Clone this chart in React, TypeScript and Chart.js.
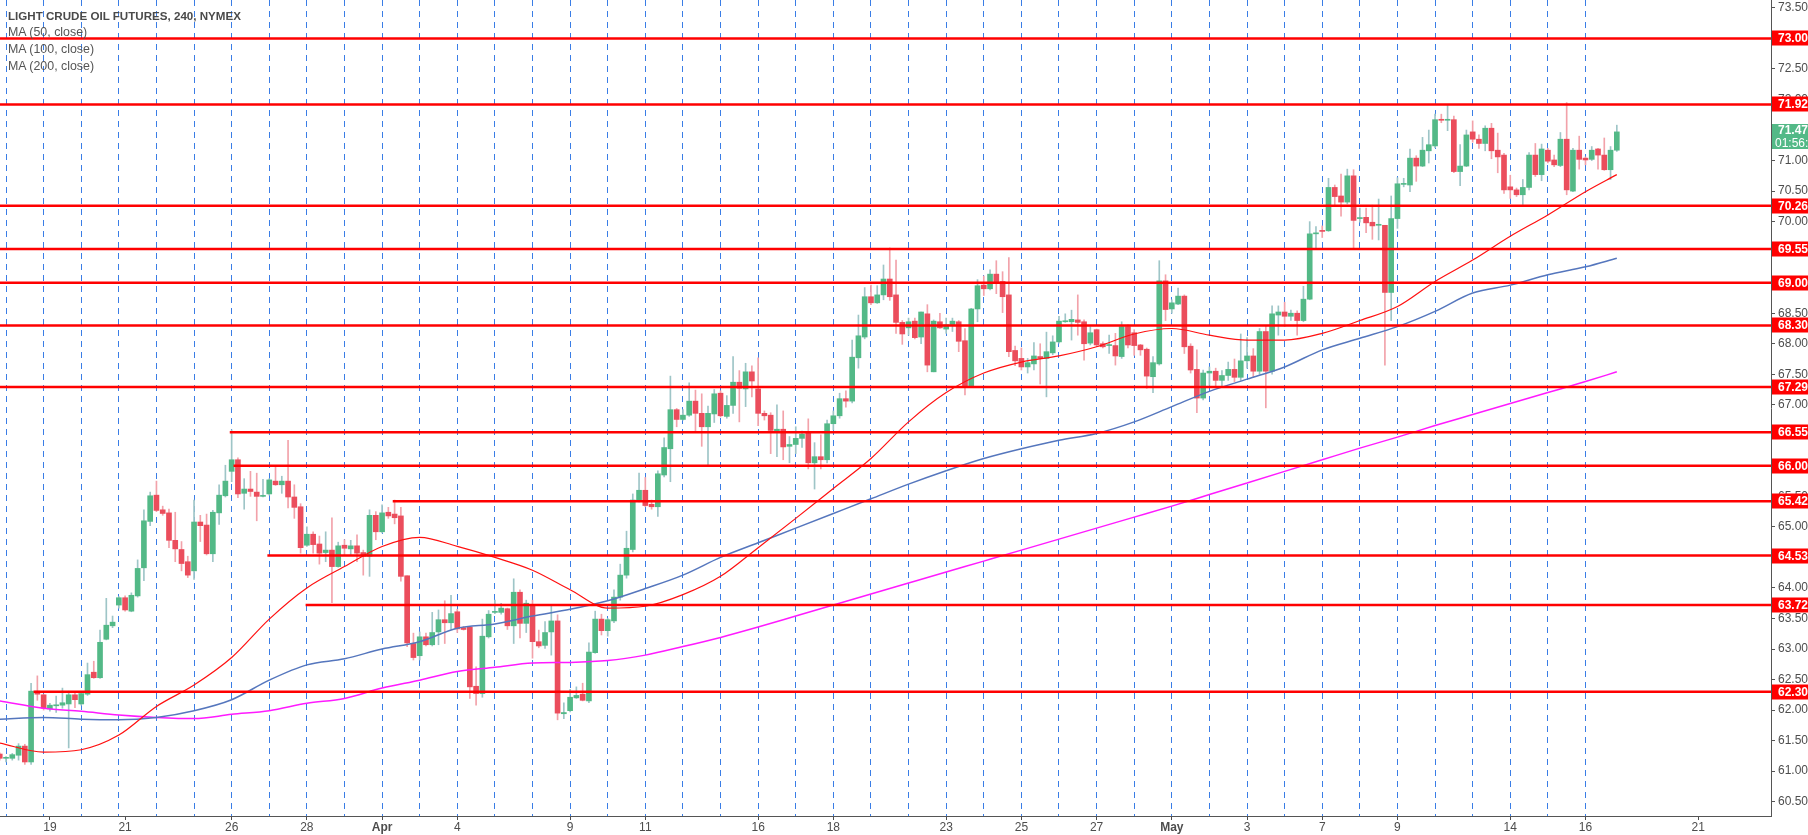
import React, { useEffect, useRef } from 'react';
import { Chart, registerables } from 'chart.js';

Chart.register(...registerables);

// ---------- DATA ----------
// bar index of the first candle (0 = first 4h bar of Mar 16)
const FIRST_BAR = -1;

const opens = [
  61.28,
  61.21, 61.21, 61.26, 61.41, 61.15, 62.31,
  62.25, 62.02, 62.07, 62.08, 62.10, 62.25,
  62.10, 62.26, 62.62, 62.53, 63.16, 63.38,
  63.72, 63.84, 63.62, 63.87, 64.33, 65.09,
  65.52, 65.28, 65.23, 64.78, 64.63, 64.43,
  64.28, 65.08, 65.03, 64.56, 65.23, 65.51,
  65.91, 66.10, 65.55, 65.62, 65.57, 65.50,
  65.54, 65.75, 65.69, 65.75, 65.49, 65.33,
  64.70, 64.88, 64.72, 64.58, 64.62, 64.35,
  64.70, 64.64, 64.69, 64.58, 64.52, 65.19,
  64.92, 65.24, 65.21, 65.18, 64.20, 63.09,
  62.89, 63.20, 63.07, 63.28, 63.48, 63.43,
  63.61, 63.35, 63.36, 62.39, 62.27, 63.20,
  63.60, 63.60, 63.66, 63.38, 63.93, 63.42,
  63.73, 63.12, 63.06, 63.28, 63.46, 61.94,
  61.99, 62.20, 62.26, 62.15, 62.94, 63.49,
  63.30, 63.46, 63.85, 64.21, 64.63, 65.43,
  65.60, 65.37, 65.33, 65.85, 66.28, 66.92,
  66.76, 66.83, 67.06, 66.86, 66.64, 66.85,
  67.19, 66.81, 66.99, 67.37, 67.26, 67.54,
  67.26, 66.86, 66.83, 66.56, 66.60, 66.32,
  66.35, 66.45, 66.54, 66.05, 66.15, 66.10,
  66.69, 66.82, 67.10, 67.06, 67.77, 68.11,
  68.77, 68.67, 68.80, 69.06, 68.80, 68.35,
  68.26, 68.37, 68.11, 68.49, 67.54, 68.36,
  68.24, 68.30, 68.36, 68.05, 67.31, 68.57,
  68.96, 68.90, 69.14, 69.02, 68.80, 67.89,
  67.76, 67.62, 67.67, 67.79, 67.76, 67.85,
  68.03, 68.36, 68.36, 68.39, 68.36, 68.01,
  68.23, 68.00, 67.97, 67.97, 67.79, 68.28,
  68.18, 67.98, 67.91, 67.46, 67.67, 69.03,
  68.57, 68.65, 68.78, 67.96, 67.58, 67.11,
  67.52, 67.55, 67.40, 67.48, 67.58, 67.45,
  67.72, 67.80, 67.55, 68.20, 67.55, 68.47,
  68.52, 68.45, 68.50, 68.38, 68.73, 69.80,
  69.85, 69.85, 70.56, 70.42, 70.32, 70.75,
  70.05, 70.07, 69.99, 69.94, 69.94, 68.84,
  70.05, 70.61, 70.60, 71.04, 70.91, 71.16,
  71.24, 71.67, 71.66, 71.67, 70.82, 70.91,
  71.47, 71.35, 71.28, 71.53, 71.17, 71.09,
  70.57, 70.52, 70.44, 70.56, 71.09, 70.77,
  71.17, 71.01, 70.92, 71.35, 70.50, 71.17,
  71.04, 71.02, 71.19, 71.09, 70.85, 71.17,
];

const highs = [
  61.30,
  61.24, 61.29, 61.45, 61.44, 62.44, 62.56,
  62.26, 62.11, 62.23, 62.36, 62.31, 62.29,
  62.30, 62.77, 62.80, 63.31, 63.83, 63.54,
  63.86, 63.87, 63.92, 64.46, 65.28, 65.57,
  65.75, 65.34, 65.29, 65.24, 64.76, 64.52,
  65.44, 65.19, 65.21, 65.27, 65.69, 66.01,
  66.59, 66.13, 65.79, 65.91, 65.88, 65.78,
  65.79, 65.99, 65.83, 66.42, 65.69, 65.38,
  65.00, 64.92, 64.85, 64.92, 65.15, 64.75,
  64.79, 64.78, 64.87, 64.62, 65.28, 65.25,
  65.36, 65.32, 65.44, 65.32, 64.20, 63.26,
  63.28, 63.26, 63.60, 63.64, 63.79, 63.88,
  63.65, 63.37, 63.37, 62.71, 63.49, 63.63,
  63.80, 63.75, 63.67, 64.15, 63.97, 63.80,
  63.80, 63.31, 63.45, 63.70, 63.56, 62.12,
  62.34, 62.38, 62.44, 63.10, 63.62, 63.57,
  63.50, 63.97, 64.39, 64.93, 65.54, 65.88,
  65.81, 65.44, 65.92, 66.46, 67.47, 66.94,
  66.92, 67.36, 67.24, 67.18, 66.98, 67.25,
  67.23, 67.15, 67.79, 67.56, 67.68, 67.64,
  67.77, 66.90, 66.87, 67.00, 66.90, 66.48,
  66.64, 66.57, 66.77, 66.38, 66.51, 66.75,
  66.90, 67.19, 67.23, 68.06, 68.47, 68.92,
  68.96, 68.95, 69.29, 69.57, 69.37, 68.38,
  68.42, 68.42, 68.52, 68.64, 68.39, 68.50,
  68.42, 68.42, 68.38, 68.25, 68.58, 69.05,
  69.11, 69.21, 69.36, 69.18, 69.41, 67.96,
  67.93, 67.76, 68.02, 68.00, 68.19, 68.13,
  68.45, 68.49, 68.55, 68.80, 68.39, 68.28,
  68.24, 68.03, 68.14, 68.17, 68.36, 68.31,
  68.23, 67.99, 67.93, 67.79, 69.36, 69.13,
  68.72, 68.91, 68.80, 68.00, 67.90, 67.57,
  67.62, 67.60, 67.56, 67.70, 67.75, 68.16,
  68.10, 67.92, 68.25, 68.29, 68.62, 68.62,
  68.68, 68.55, 68.54, 68.94, 70.00, 69.92,
  69.93, 70.71, 70.60, 70.78, 70.86, 70.85,
  70.22, 70.22, 70.27, 70.37, 69.94, 70.42,
  70.72, 70.71, 71.19, 71.08, 71.38, 71.50,
  71.76, 71.76, 71.91, 71.73, 71.26, 71.50,
  71.65, 71.42, 71.57, 71.61, 71.45, 71.12,
  70.76, 70.55, 70.69, 71.13, 71.28, 71.27,
  71.20, 71.09, 71.46, 71.95, 71.20, 71.40,
  71.06, 71.23, 71.20, 71.37, 71.23, 71.58,
];

const lows = [
  61.18,
  61.15, 61.18, 61.18, 61.11, 61.11, 62.16,
  62.00, 61.98, 61.96, 62.03, 61.38, 62.04,
  62.08, 62.24, 62.52, 62.52, 63.15, 63.35,
  63.67, 63.62, 63.61, 63.85, 64.12, 65.02,
  65.25, 65.19, 64.66, 64.43, 64.28, 64.17,
  64.14, 64.76, 64.54, 64.43, 65.04, 65.49,
  65.74, 65.48, 65.29, 65.50, 65.10, 65.49,
  65.52, 65.68, 65.55, 65.31, 65.14, 64.57,
  64.68, 64.57, 64.39, 64.43, 63.76, 64.34,
  64.54, 64.53, 64.43, 64.21, 64.19, 64.79,
  64.90, 65.14, 65.05, 64.11, 63.04, 62.82,
  62.82, 63.05, 63.05, 63.07, 63.09, 63.32,
  63.27, 63.31, 62.19, 62.08, 62.21, 63.18,
  63.58, 63.57, 63.32, 63.09, 63.18, 63.27,
  62.85, 63.02, 63.01, 62.90, 61.84, 61.86,
  61.97, 62.19, 62.15, 62.12, 62.93, 63.23,
  63.21, 63.43, 63.80, 64.16, 64.59, 65.41,
  65.33, 65.29, 65.17, 65.82, 65.74, 66.64,
  66.75, 66.81, 66.56, 66.32, 66.01, 66.71,
  66.80, 66.78, 66.86, 66.72, 66.97, 67.13,
  66.66, 66.75, 66.20, 66.15, 66.10, 66.05,
  66.20, 66.30, 65.95, 65.62, 65.95, 66.05,
  66.59, 66.78, 66.96, 67.03, 67.60, 68.08,
  68.64, 68.66, 68.72, 68.71, 68.17, 67.99,
  68.14, 68.08, 68.00, 67.54, 67.54, 68.25,
  68.17, 68.20, 67.87, 67.16, 67.30, 68.36,
  68.79, 68.88, 68.82, 68.51, 67.79, 67.64,
  67.57, 67.52, 67.57, 67.34, 67.13, 67.82,
  68.01, 68.35, 68.06, 68.14, 67.73, 67.98,
  67.96, 67.93, 67.84, 67.65, 67.76, 67.93,
  67.81, 67.81, 67.27, 67.20, 67.65, 68.38,
  68.50, 68.64, 67.84, 67.52, 66.87, 67.08,
  67.32, 67.30, 67.28, 67.40, 67.38, 67.40,
  67.60, 67.45, 67.50, 66.95, 67.50, 68.14,
  68.28, 68.38, 68.14, 68.36, 68.72, 69.55,
  69.74, 69.84, 70.26, 70.09, 70.29, 69.55,
  69.99, 69.82, 69.71, 69.70, 67.65, 68.38,
  69.89, 70.57, 70.49, 70.66, 70.90, 70.96,
  71.21, 71.62, 71.49, 70.80, 70.59, 70.90,
  71.30, 71.20, 71.16, 71.03, 70.80, 70.46,
  70.38, 70.41, 70.28, 70.52, 70.74, 70.67,
  70.96, 70.90, 70.90, 70.44, 70.49, 70.86,
  70.93, 71.00, 70.86, 70.84, 70.69, 71.15,
];

const closes = [
  61.21,
  61.22, 61.27, 61.41, 61.15, 62.31, 62.26,
  62.03, 62.08, 62.08, 62.12, 62.25, 62.17,
  62.27, 62.58, 62.53, 63.11, 63.39, 63.44,
  63.84, 63.64, 63.88, 64.32, 65.10, 65.51,
  65.27, 65.22, 64.78, 64.64, 64.40, 64.21,
  65.08, 65.02, 64.56, 65.24, 65.52, 65.75,
  66.10, 65.54, 65.62, 65.58, 65.50, 65.51,
  65.77, 65.69, 65.75, 65.49, 65.32, 64.66,
  64.88, 64.71, 64.57, 64.62, 64.35, 64.69,
  64.65, 64.69, 64.57, 64.52, 65.19, 64.92,
  65.23, 65.18, 65.15, 64.19, 63.10, 62.86,
  63.20, 63.07, 63.27, 63.48, 63.43, 63.58,
  63.33, 63.32, 62.38, 62.27, 63.21, 63.57,
  63.61, 63.67, 63.38, 63.93, 63.42, 63.75,
  63.12, 63.05, 63.27, 63.46, 61.95, 61.96,
  62.21, 62.24, 62.16, 62.95, 63.49, 63.30,
  63.48, 63.85, 64.21, 64.65, 65.44, 65.60,
  65.35, 65.33, 65.87, 66.30, 66.92, 66.76,
  66.83, 67.06, 66.86, 66.64, 66.86, 67.18,
  66.82, 66.99, 67.37, 67.27, 67.54, 67.39,
  66.86, 66.82, 66.58, 66.60, 66.31, 66.35,
  66.45, 66.52, 66.05, 66.15, 66.10, 66.69,
  66.82, 67.10, 67.06, 67.78, 68.13, 68.77,
  68.67, 68.80, 69.06, 68.77, 68.35, 68.16,
  68.36, 68.10, 68.52, 67.65, 68.37, 68.26,
  68.31, 68.37, 68.04, 67.30, 68.57, 68.95,
  68.90, 69.14, 69.00, 68.77, 67.87, 67.72,
  67.62, 67.69, 67.80, 67.76, 67.87, 68.03,
  68.37, 68.37, 68.40, 68.35, 68.00, 68.18,
  67.98, 67.95, 67.98, 67.80, 68.28, 67.98,
  67.97, 67.90, 67.47, 67.69, 69.03, 68.56,
  68.67, 68.78, 67.95, 67.57, 67.11, 67.52,
  67.55, 67.40, 67.48, 67.58, 67.45, 67.72,
  67.80, 67.55, 68.20, 67.55, 68.49, 68.52,
  68.45, 68.50, 68.38, 68.73, 69.80, 69.81,
  69.84, 70.56, 70.41, 70.32, 70.75, 70.02,
  70.06, 69.98, 69.93, 69.95, 68.84, 70.05,
  70.62, 70.62, 71.04, 70.91, 71.17, 71.26,
  71.67, 71.66, 71.67, 70.82, 70.91, 71.42,
  71.35, 71.28, 71.53, 71.16, 71.06, 70.52,
  70.52, 70.44, 70.56, 71.09, 70.77, 71.19,
  70.99, 70.93, 71.35, 70.52, 71.17, 71.02,
  71.01, 71.17, 71.09, 70.85, 71.17, 71.47,
];

// moving averages, sampled at bar indices
const maBars = [-1, 6, 12, 18, 24, 30, 36, 42, 48, 54, 60, 66, 72, 78, 84, 90, 96, 102, 108, 114, 120, 126, 132, 138, 144, 150, 156, 162, 168, 174, 180, 186, 192, 198, 204, 210, 216, 222, 228, 234, 240, 246, 252, 257];
const ma50 = [61.46, 61.31, 61.35, 61.59, 62.06, 62.41, 62.86, 63.49, 64.00, 64.35, 64.68, 64.83, 64.68, 64.50, 64.29, 63.97, 63.67, 63.70, 63.89, 64.19, 64.66, 65.14, 65.63, 66.12, 66.72, 67.20, 67.52, 67.70, 67.80, 67.95, 68.16, 68.25, 68.14, 68.06, 68.06, 68.17, 68.38, 68.61, 69.02, 69.37, 69.76, 70.11, 70.49, 70.77];
const ma100 = [61.85, 61.88, 61.85, 61.84, 61.88, 61.99, 62.17, 62.49, 62.74, 62.84, 63.00, 63.12, 63.34, 63.41, 63.54, 63.65, 63.79, 63.99, 64.21, 64.50, 64.74, 64.98, 65.22, 65.46, 65.70, 65.92, 66.12, 66.28, 66.42, 66.53, 66.72, 66.97, 67.22, 67.42, 67.62, 67.90, 68.09, 68.28, 68.53, 68.83, 68.96, 69.13, 69.26, 69.40];
const ma200 = [62.15, 62.03, 61.98, 61.92, 61.88, 61.86, 61.93, 61.99, 62.11, 62.19, 62.36, 62.49, 62.63, 62.70, 62.77, 62.78, 62.81, 62.90, 63.04, 63.19, 63.36, 63.54, 63.72, 63.90, 64.08, 64.26, 64.44, 64.62, 64.80, 64.98, 65.16, 65.34, 65.53, 65.72, 65.91, 66.10, 66.29, 66.47, 66.66, 66.84, 67.02, 67.20, 67.38, 67.54];

// horizontal levels and the bar where each starts (null = from the left edge)
const levels = [73.0, 71.92, 70.26, 69.55, 69.0, 68.3, 67.29, 66.55, 66.0, 65.42, 64.53, 63.72, 62.3];
const levelStartBars = [null, null, null, null, null, null, null, 35.7, 36.3, 61.7, 41.7, 47.8, 4.4];

// axis
const dayStartBars = [0, 6, 12, 18, 24, 30, 36, 42, 48, 54, 60, 66, 72, 78, 84, 90, 96, 102, 108, 114, 120, 126, 132, 138, 144, 150, 156, 162, 168, 174, 180, 186, 192, 198, 204, 210, 216, 222, 228, 234, 240, 246, 252];
const xLabelBars = [7, 19, 36, 48, 60, 72, 90, 102, 120, 132, 150, 162, 174, 186, 198, 210, 222, 240, 252, 270];
const xLabels = ['19', '21', '26', '28', 'Apr', '4', '9', '11', '16', '18', '23', '25', '27', 'May', '3', '7', '9', '14', '16', '21'];
const boldLabels = ['Apr', 'May'];
const yTickValues = [60.5, 61, 61.5, 62, 62.5, 63, 63.5, 64, 64.5, 65, 65.5, 66, 66.5, 67, 67.5, 68, 68.5, 69, 69.5, 70, 70.5, 71, 71.5, 72, 72.5, 73, 73.5];

const lastPrice = 71.47;
const countdown = '01:56:36';
const titleText = 'LIGHT CRUDE OIL FUTURES, 240, NYMEX';
const legendTexts = ['MA (50, close)', 'MA (100, close)', 'MA (200, close)'];

// ---------- STYLE ----------
const W = 1808;
const H = 835;
const X_MIN = -0.96;
const X_MAX = 281.6;
const Y_MIN = 60.265;
const Y_MAX = 73.63;
const UP = '#53b987';
const DOWN = '#eb4d5c';
const WICK_UP = '#9ec5c7';
const WICK_DOWN = '#f2a2aa';
const FONT = '"Liberation Sans", Arial, sans-serif';
const AXIS_TEXT = '#4d4d4d';

export default function App() {
  const canvasRef = useRef<HTMLCanvasElement | null>(null);

  useEffect(() => {
    document.body.style.margin = '0';
    const canvas = canvasRef.current;
    if (!canvas) return;

    const bars = opens.map((o, i) => ({
      n: FIRST_BAR + i,
      o,
      h: highs[i],
      l: lows[i],
      c: closes[i],
    }));
    const isUp = bars.map((b) => b.c >= b.o);

    const gridSet = new Set(dayStartBars);
    const labelMap = new Map<number, string>();
    xLabelBars.forEach((n, i) => labelMap.set(n, xLabels[i]));
    const xTicks = Array.from(new Set([...dayStartBars, ...xLabelBars])).sort((a, b) => a - b);

    const levelDatasets = levels.map((v, i) => ({
      type: 'line' as const,
      label: 'level ' + v,
      data: [
        { x: levelStartBars[i] == null ? X_MIN : (levelStartBars[i] as number), y: v },
        { x: X_MAX, y: v },
      ],
      borderColor: '#ff0000',
      borderWidth: 2.5,
      pointRadius: 0,
      order: 0,
    }));

    const maDataset = (vals: number[], color: string, width: number, name: string) => ({
      type: 'line' as const,
      label: name,
      data: maBars.map((n, i) => ({ x: n, y: vals[i] })),
      borderColor: color,
      borderWidth: width,
      pointRadius: 0,
      cubicInterpolationMode: 'monotone' as const,
      order: 1,
    });

    const tagPlugin = {
      id: 'priceTags',
      afterDraw(chart: any) {
        const { ctx, chartArea } = chart;
        const y = chart.scales.y;
        const x0 = chartArea.right + 1;
        const w = chart.width - x0;
        ctx.save();
        ctx.textBaseline = 'middle';
        ctx.textAlign = 'left';
        ctx.font = 'bold 12px ' + FONT;
        levels.forEach((v) => {
          const py = Math.round(y.getPixelForValue(v));
          ctx.fillStyle = '#ff0000';
          ctx.fillRect(x0, py - 7.5, w, 15);
          ctx.fillStyle = '#ffffff';
          ctx.fillText(v.toFixed(2), x0 + 6, py + 0.5);
        });
        const gy = Math.round(y.getPixelForValue(lastPrice));
        ctx.fillStyle = UP;
        ctx.fillRect(x0, gy - 8, w, 13);
        ctx.fillStyle = '#ffffff';
        ctx.fillText(lastPrice.toFixed(2), x0 + 6, gy - 1.5);
        ctx.fillStyle = UP;
        ctx.fillRect(x0, gy + 5, w, 12);
        ctx.fillStyle = '#ffffff';
        ctx.font = '12px ' + FONT;
        ctx.fillText(countdown, x0 + 3, gy + 11.5);
        ctx.restore();
      },
    };

    const chart = new Chart(canvas, {
      type: 'bar',
      data: {
        datasets: [
          ...levelDatasets,
          maDataset(ma50, '#ff1010', 1.2, 'MA 50'),
          maDataset(ma100, '#5576bd', 1.5, 'MA 100'),
          maDataset(ma200, '#ff1aff', 1.5, 'MA 200'),
          {
            type: 'bar' as const,
            label: 'bodies',
            data: bars.map((b) => ({ x: b.n, y: [Math.min(b.o, b.c), Math.max(b.o, b.c)] })) as any,
            backgroundColor: isUp.map((u) => (u ? UP : DOWN)),
            borderWidth: 0,
            barThickness: 5,
            minBarLength: 1,
            grouped: false,
            order: 2,
          },
          {
            type: 'bar' as const,
            label: 'wicks',
            data: bars.map((b) => ({ x: b.n, y: [b.l, b.h] })) as any,
            backgroundColor: isUp.map((u) => (u ? WICK_UP : WICK_DOWN)),
            borderWidth: 0,
            barThickness: 1,
            grouped: false,
            order: 3,
          },
        ] as any,
      },
      options: {
        responsive: false,
        maintainAspectRatio: false,
        devicePixelRatio: 1,
        animation: false,
        layout: { padding: 0, autoPadding: false },
        plugins: {
          legend: { display: false },
          tooltip: { enabled: false },
          title: { display: false },
        },
        scales: {
          x: {
            type: 'linear',
            offset: false,
            min: X_MIN,
            max: X_MAX,
            afterBuildTicks: (axis: any) => {
              axis.ticks = xTicks.map((v) => ({ value: v }));
            },
            afterFit: (s: any) => {
              s.height = 19;
              s.paddingLeft = 0;
              s.paddingRight = 0;
              s.paddingTop = 0;
              s.paddingBottom = 0;
            },
            ticks: {
              autoSkip: false,
              maxRotation: 0,
              minRotation: 0,
              padding: 0,
              color: AXIS_TEXT,
              font: (ctx: any) => ({
                family: FONT,
                size: 12,
                weight: ctx.tick && boldLabels.includes(labelMap.get(ctx.tick.value) || '') ? 'bold' : 'normal',
              }),
              callback: (v: any) => labelMap.get(Number(v)) ?? '',
            },
            grid: {
              offset: false,
              drawOnChartArea: true,
              drawTicks: true,
              tickLength: 4,
              lineWidth: 1,
              color: (ctx: any) => (ctx.tick && gridSet.has(ctx.tick.value) ? '#3a7de6' : 'rgba(0,0,0,0)'),
              tickColor: (ctx: any) => (ctx.tick && labelMap.has(ctx.tick.value) ? AXIS_TEXT : 'rgba(0,0,0,0)'),
              tickBorderDash: [],
            },
            border: { display: true, color: '#555555', width: 1, dash: [6, 5] },
          },
          y: {
            type: 'linear',
            position: 'right',
            offset: false,
            min: Y_MIN,
            max: Y_MAX,
            afterBuildTicks: (axis: any) => {
              axis.ticks = yTickValues.map((v) => ({ value: v }));
            },
            afterFit: (s: any) => {
              s.width = 37;
              s.paddingLeft = 0;
              s.paddingRight = 0;
              s.paddingTop = 0;
              s.paddingBottom = 0;
            },
            ticks: {
              padding: 3,
              color: AXIS_TEXT,
              font: { family: FONT, size: 12 },
              callback: (v: any) => Number(v).toFixed(2),
            },
            grid: {
              offset: false,
              drawOnChartArea: false,
              drawTicks: true,
              tickLength: 4,
              tickColor: '#555555',
            },
            border: { display: true, color: '#555555', width: 1 },
          },
        },
      } as any,
      plugins: [tagPlugin],
    });

    return () => {
      chart.destroy();
    };
  }, []);

  return (
    <div style={{ position: 'relative', width: W, height: H, background: '#ffffff', overflow: 'hidden' }}>
      <canvas ref={canvasRef} width={W} height={H} style={{ display: 'block', width: W, height: H }} />
      <div
        style={{
          position: 'absolute',
          left: 8,
          top: 7,
          fontFamily: FONT,
          fontSize: 12,
          lineHeight: '17px',
          pointerEvents: 'none',
          whiteSpace: 'nowrap',
        }}
      >
        <div style={{ fontWeight: 'bold', color: '#4a4a4a', fontSize: 11.6 }}>{titleText}</div>
        {legendTexts.map((t) => (
          <div key={t} style={{ color: '#555555', fontSize: 12.4 }}>
            {t}
          </div>
        ))}
      </div>
    </div>
  );
}
